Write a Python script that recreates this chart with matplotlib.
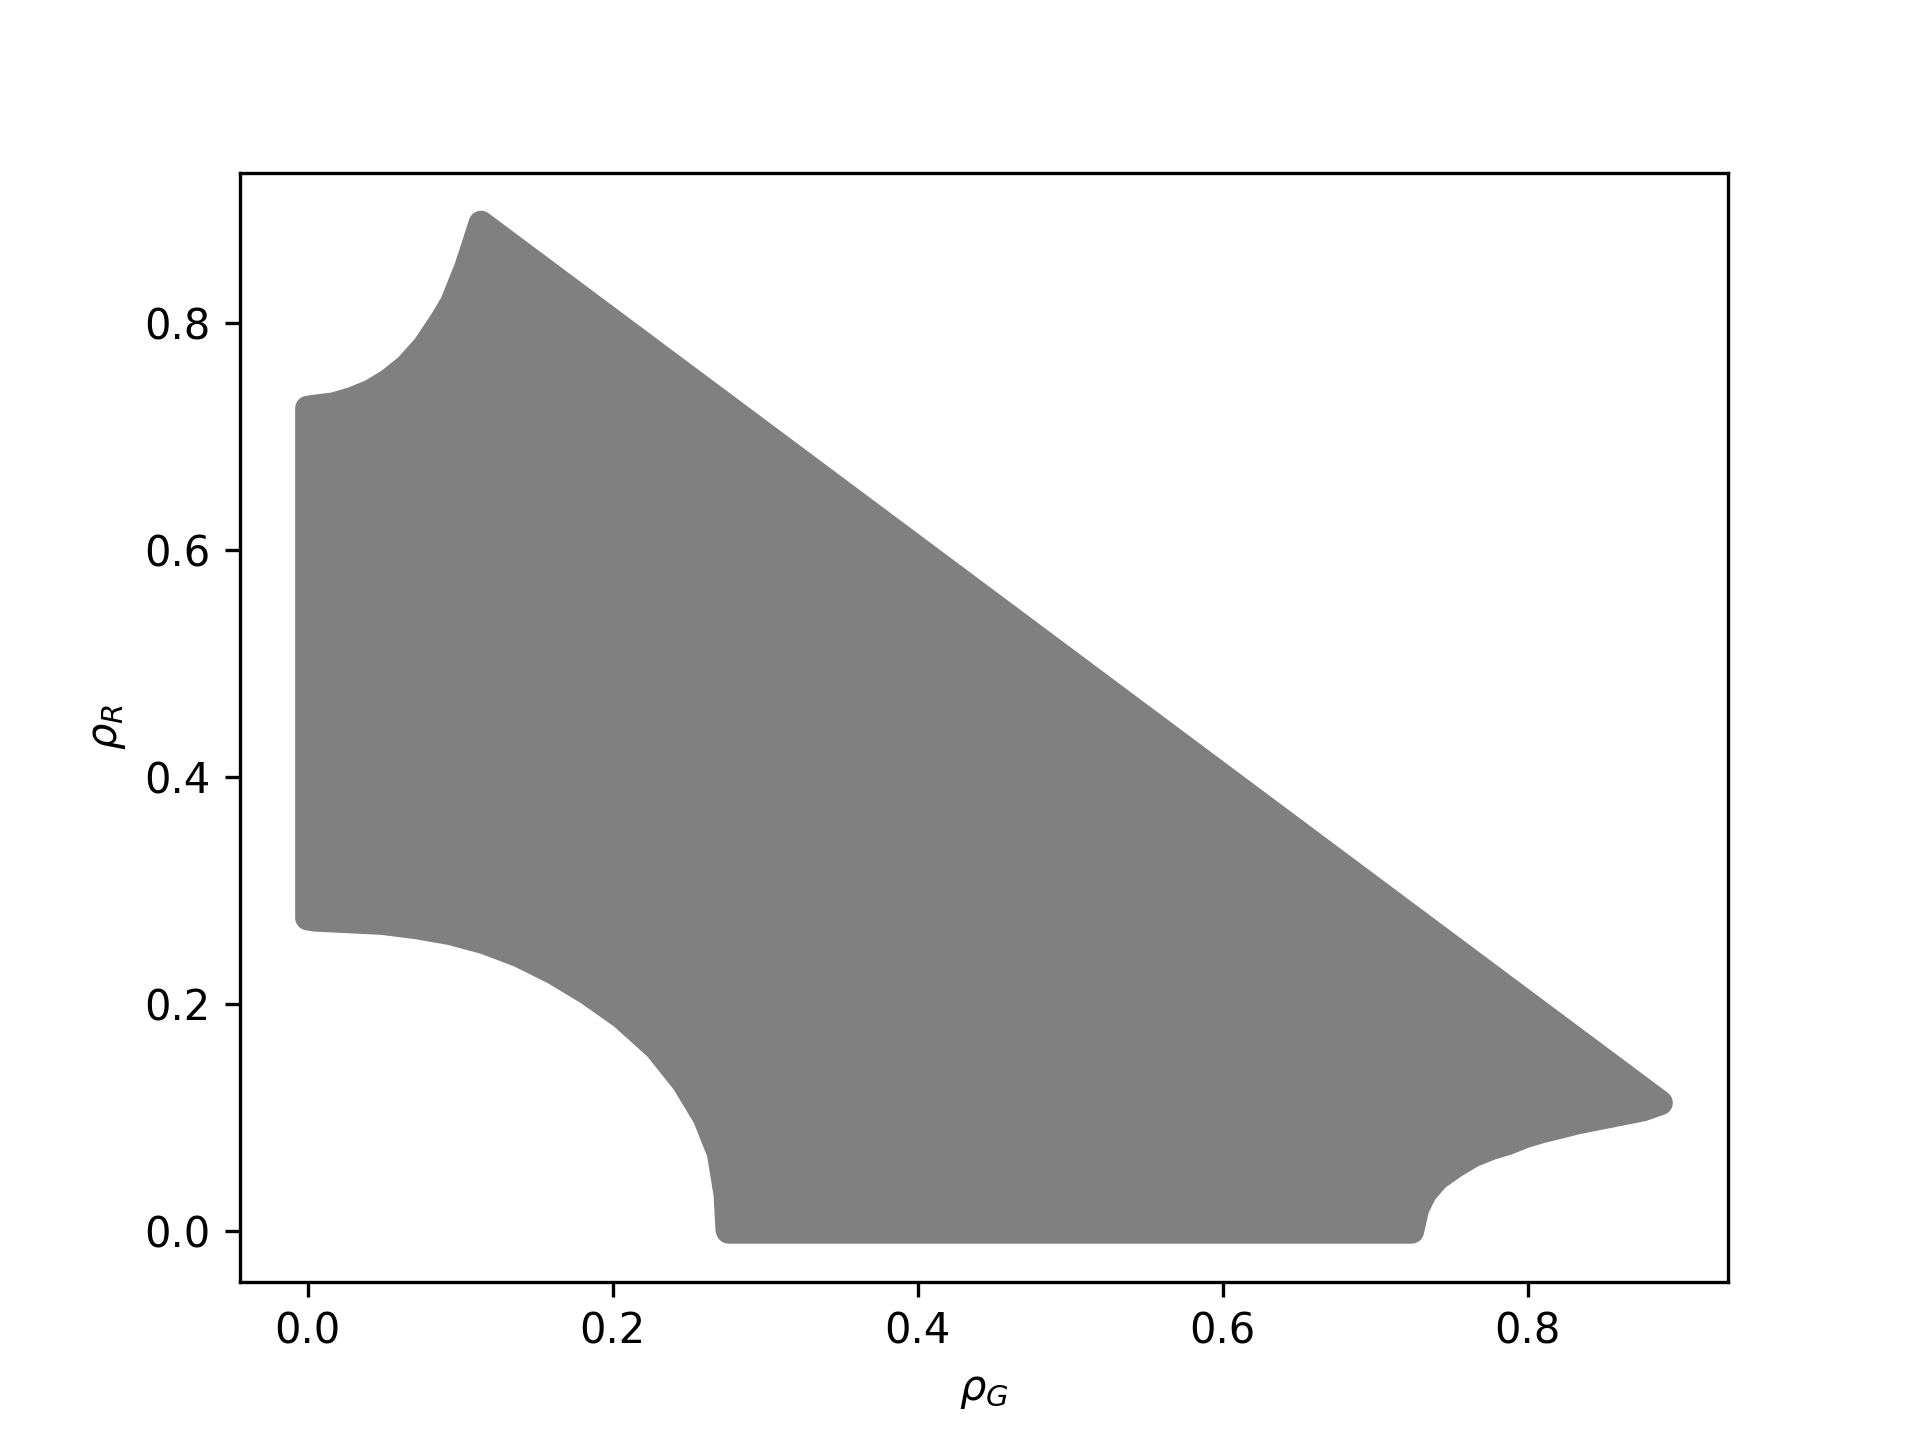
import matplotlib
matplotlib.use("Agg")
import matplotlib.pyplot as plt
from matplotlib.patches import Polygon
import numpy as np

# Boundary of the feasible region (centres of the outermost dots)
left_edge_x = [0.0, 0.0]
left_edge_y = [0.276, 0.725]

top_arc_x = [0.0052, 0.0172, 0.0292, 0.0411, 0.0530, 0.0649, 0.0766, 0.0879, 0.0949, 0.0995, 0.1040, 0.1086, 0.1137]
top_arc_y = [0.726, 0.7280, 0.7328, 0.7392, 0.7488, 0.7616, 0.7790, 0.8017, 0.8174, 0.8329, 0.8479, 0.8666, 0.888]

# diagonal goes from top of top arc to tip of right arc
right_arc_x = [0.8871, 0.8754, 0.8642, 0.8533, 0.8424, 0.8313, 0.8203, 0.8092, 0.7978, 0.7869, 0.7760, 0.7641, 0.7524, 0.7406, 0.7326, 0.7274, 0.724]
right_arc_y = [0.1131, 0.1077, 0.1047, 0.1018, 0.0989, 0.0959, 0.0921, 0.0885, 0.0839, 0.0780, 0.0736, 0.0672, 0.0578, 0.0466, 0.0341, 0.0202, 0.0]

bottom_edge_x = [0.724, 0.276]
bottom_edge_y = [0.0, 0.0]

low_arc_x = [0.276, 0.2756, 0.2744, 0.2699, 0.2606, 0.2468, 0.2287, 0.2060, 0.1836, 0.1613, 0.1388, 0.1163, 0.0937, 0.0714, 0.0491, 0.0269, 0.0051, 0.0]
low_arc_y = [0.0, 0.0017, 0.0322, 0.0690, 0.1004, 0.1311, 0.1616, 0.1890, 0.2102, 0.2283, 0.2433, 0.2548, 0.2630, 0.2682, 0.2720, 0.2735, 0.2749, 0.276]

xs = left_edge_x + top_arc_x + right_arc_x + bottom_edge_x + low_arc_x
ys = left_edge_y + top_arc_y + right_arc_y + bottom_edge_y + low_arc_y

fig, ax = plt.subplots(figsize=(6.4, 4.8), dpi=300)
poly = Polygon(np.column_stack([xs, ys]), closed=True, facecolor='gray',
               edgecolor='gray', linewidth=6, joinstyle='round')
ax.add_patch(poly)
ax.autoscale_view()
ax.set_xlabel(r'$\rho_G$')
ax.set_ylabel(r'$\rho_R$')
fig.savefig('out.png', dpi=300)
